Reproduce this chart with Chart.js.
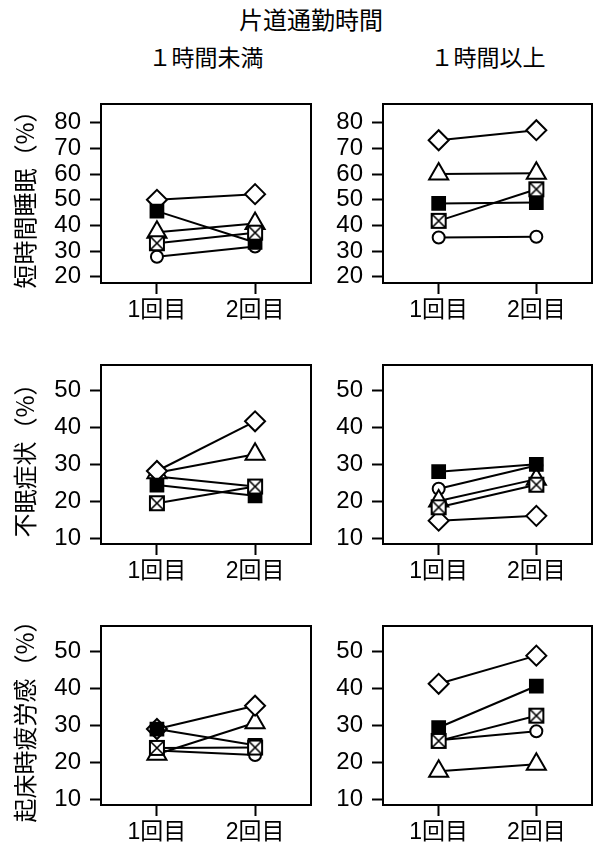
<!DOCTYPE html>
<html lang="ja">
<head>
<meta charset="UTF-8">
<title>片道通勤時間</title>
<script src="https://cdn.jsdelivr.net/npm/chart.js"></script>
<style>
    html, body {
        margin: 0;
        padding: 0;
        background: #fff;
    }

    body {
        width: 598px;
        height: 846px;
        position: relative;
        overflow: hidden;
        font-family: "Noto Sans CJK JP", sans-serif;
    }

    .head {
        position: absolute;
        font-size: 23px;
        line-height: 26px;
        color: #000;
        text-align: center;
        white-space: nowrap;
    }

    .panel {
        position: absolute;
    }
</style>
</head>
<body>
<div class="head" style="left:211px;width:200px;top:6px;font-size:24px;">片道通勤時間</div>
<div class="head" style="left:101px;width:210px;top:43px;">１時間未満</div>
<div class="head" style="left:383px;width:210px;top:43px;">１時間以上</div>

<div class="panel" style="left:0;top:96px"><canvas id="p1" width="318" height="227"></canvas></div>
<div class="panel" style="left:318px;top:96px"><canvas id="p2" width="280" height="227"></canvas></div>
<div class="panel" style="left:0;top:357px"><canvas id="p3" width="318" height="227"></canvas></div>
<div class="panel" style="left:318px;top:357px"><canvas id="p4" width="280" height="227"></canvas></div>
<div class="panel" style="left:0;top:618px"><canvas id="p5" width="318" height="227"></canvas></div>
<div class="panel" style="left:318px;top:618px"><canvas id="p6" width="280" height="227"></canvas></div>

<script>
    // 回数（x軸）
    const rounds = [1, 2];
    const roundLabels = ['1回目', '2回目'];

    // 行ごとの縦軸
    const rowTitles = ['短時間睡眠（%）', '不眠症状（%）', '起床時疲労感（%）'];
    const ticksSleep = [20, 30, 40, 50, 60, 70, 80];
    const ticksSmall = [10, 20, 30, 40, 50];

    // 各パネルの値 [1回目, 2回目]  左:1時間未満 右:1時間以上
    // 短時間睡眠
    const circle1 = [27.8, 31.8];
    const triangle1 = [37.4, 40.8];
    const diamond1 = [50.0, 52.2];
    const filled1 = [45.6, 33.4];
    const crossed1 = [33.1, 37.2];

    const circle2 = [35.3, 35.6];
    const triangle2 = [60.0, 60.3];
    const diamond2 = [73.2, 77.1];
    const filled2 = [48.6, 48.9];
    const crossed2 = [41.8, 54.1];

    // 不眠症状
    const circle3 = [26.7, 24.0];
    const triangle3 = [27.7, 32.7];
    const diamond3 = [28.2, 41.6];
    const filled3 = [24.4, 21.5];
    const crossed3 = [19.5, 24.0];

    const circle4 = [23.4, 29.7];
    const triangle4 = [20.1, 26.0];
    const diamond4 = [14.8, 16.1];
    const filled4 = [28.0, 30.0];
    const crossed4 = [18.4, 24.5];

    // 起床時疲労感
    const circle5 = [23.2, 22.0];
    const triangle5 = [22.2, 30.7];
    const diamond5 = [29.0, 35.3];
    const filled5 = [29.0, 24.6];
    const crossed5 = [23.9, 24.0];

    const circle6 = [26.0, 28.4];
    const triangle6 = [17.6, 19.5];
    const diamond6 = [41.2, 48.8];
    const filled6 = [29.4, 40.6];
    const crossed6 = [25.8, 32.6];

    const fontFamily = '"Liberation Sans", Arial, "Noto Sans CJK JP", sans-serif';

    // 四角にバツの記号
    function makeCrossedSquare() {
        const c = document.createElement('canvas');
        c.width = 18;
        c.height = 18;
        const g = c.getContext('2d');
        g.fillStyle = '#fff';
        g.fillRect(2, 2, 14, 14);
        g.strokeStyle = '#000';
        g.lineWidth = 2;
        g.strokeRect(2, 2, 14, 14);
        g.lineWidth = 1.6;
        g.beginPath();
        g.moveTo(3, 3);
        g.lineTo(15, 15);
        g.moveTo(15, 3);
        g.lineTo(3, 15);
        g.stroke();
        return c;
    }
    const crossedSquare = makeCrossedSquare();

    const frame = {
        id: 'frame',
        beforeDatasetsDraw(chart) {
            const a = chart.chartArea;
            const ctx = chart.ctx;
            ctx.save();
            ctx.strokeStyle = '#000';
            ctx.lineWidth = 2;
            ctx.strokeRect(a.left, a.top, a.right - a.left, a.bottom - a.top);
            ctx.restore();
        }
    };

    function series(values, style, order) {
        const ds = {
            data: rounds.map((r, i) => ({x: r, y: values[i]})),
            borderColor: '#000',
            borderWidth: 2,
            pointBorderColor: '#000',
            pointBackgroundColor: '#fff',
            pointBorderWidth: 2,
            order: order
        };
        if (style === 'circle') {
            ds.pointStyle = 'circle';
            ds.pointRadius = 6;
        } else if (style === 'triangle') {
            ds.pointStyle = 'triangle';
            ds.pointRadius = 11;
        } else if (style === 'diamond') {
            ds.pointStyle = 'rectRot';
            ds.pointRadius = 10;
        } else if (style === 'filled') {
            ds.pointStyle = 'rect';
            ds.pointRadius = 9;
            ds.pointBackgroundColor = '#000';
        } else {
            ds.pointStyle = crossedSquare;
        }
        return ds;
    }

    function drawPanel(id, title, yTicks, yMin, yMax, leftWidth, rightPad, vals) {
        const ctx = document.getElementById(id).getContext('2d');
        new Chart(ctx, {
            type: 'line',
            data: {
                datasets: [
                    series(vals[0], 'circle', 4),
                    series(vals[1], 'triangle', 3),
                    series(vals[2], 'diamond', 2),
                    series(vals[3], 'filled', 1),
                    series(vals[4], 'crossed', 0)
                ]
            },
            options: {
                responsive: false,
                animation: false,
                layout: { autoPadding: false, padding: { top: 8, right: rightPad, left: 0, bottom: 0 } },
                plugins: { legend: { display: false }, tooltip: { enabled: false } },
                scales: {
                    x: {
                        type: 'linear',
                        min: 0.43,
                        max: 2.57,
                        afterBuildTicks: s => { s.ticks = rounds.map(v => ({value: v})); },
                        afterFit: s => {
                            s.height = 40;
                            s.paddingLeft = 0;
                            s.paddingRight = 0;
                        },
                        border: { display: false },
                        grid: { drawOnChartArea: false, drawTicks: true, tickLength: 11, tickWidth: 2, tickColor: '#000' },
                        ticks: {
                            autoSkip: false,
                            maxRotation: 0,
                            padding: 3,
                            color: '#000',
                            font: { family: fontFamily, size: 23 },
                            callback: v => roundLabels[rounds.indexOf(v)]
                        }
                    },
                    y: {
                        min: yMin,
                        max: yMax,
                        afterBuildTicks: s => { s.ticks = yTicks.map(v => ({value: v})); },
                        afterFit: s => {
                            s.width = leftWidth;
                            s.paddingTop = 0;
                            s.paddingBottom = 0;
                        },
                        border: { display: false },
                        grid: { drawOnChartArea: false, drawTicks: true, tickLength: 11, tickWidth: 2, tickColor: '#000' },
                        ticks: {
                            autoSkip: false,
                            padding: 9,
                            color: '#000',
                            font: { family: fontFamily, size: 24 }
                        },
                        title: {
                            display: !!title,
                            text: title,
                            color: '#000',
                            font: { family: '"Noto Sans CJK JP", sans-serif', size: 24 },
                            padding: { top: 10, bottom: 0 }
                        }
                    }
                }
            },
            plugins: [frame]
        });
    }

    drawPanel('p1', rowTitles[0], ticksSleep, 17.6, 87.3, 101, 7, [circle1, triangle1, diamond1, filled1, crossed1]);
    drawPanel('p2', '', ticksSleep, 17.6, 87.3, 65, 6, [circle2, triangle2, diamond2, filled2, crossed2]);
    drawPanel('p3', rowTitles[1], ticksSmall, 8.5, 56.8, 101, 7, [circle3, triangle3, diamond3, filled3, crossed3]);
    drawPanel('p4', '', ticksSmall, 8.5, 56.8, 65, 6, [circle4, triangle4, diamond4, filled4, crossed4]);
    drawPanel('p5', rowTitles[2], ticksSmall, 8.5, 56.8, 101, 7, [circle5, triangle5, diamond5, filled5, crossed5]);
    drawPanel('p6', '', ticksSmall, 8.5, 56.8, 65, 6, [circle6, triangle6, diamond6, filled6, crossed6]);
</script>
</body>
</html>
